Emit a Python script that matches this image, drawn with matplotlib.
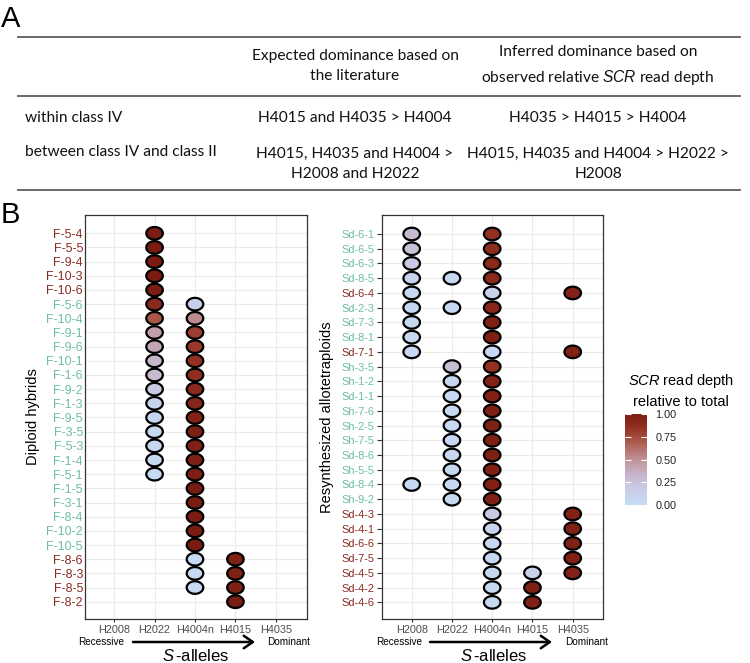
import matplotlib
matplotlib.use("Agg")
import matplotlib.pyplot as plt
import numpy as np
from matplotlib.colors import LinearSegmentedColormap, Normalize
from matplotlib.path import Path
from matplotlib.lines import Line2D
import matplotlib.cm as cm

plt.rcParams['font.family'] = ['Liberation Sans', 'DejaVu Sans']
plt.rcParams['mathtext.fontset'] = 'custom'
plt.rcParams['mathtext.rm'] = 'Liberation Sans'
plt.rcParams['mathtext.it'] = 'Liberation Sans:italic'

nan = np.nan

alleles = ["H2008", "H2022", "H4004n", "H4015", "H4035"]

# ---- panel A table ----
table_header = ["", "Expected dominance based on\nthe literature",
                "Inferred dominance based on\nobserved relative $SCR$ read depth"]
table_rows = [
    ["within class IV", "H4015 and H4035 > H4004", "H4035 > H4015 > H4004"],
    ["between class IV and class II", "H4015, H4035 and H4004 >\nH2008 and H2022",
     "H4015, H4035 and H4004 > H2022 >\nH2008"],
]

# ---- diploid hybrids ----
diploid_samples = ["F-5-4", "F-5-5", "F-9-4", "F-10-3", "F-10-6", "F-5-6", "F-10-4",
                   "F-9-1", "F-9-6", "F-10-1", "F-1-6", "F-9-2", "F-1-3", "F-9-5",
                   "F-3-5", "F-5-3", "F-1-4", "F-5-1", "F-1-5", "F-3-1", "F-8-4",
                   "F-10-2", "F-10-5", "F-8-6", "F-8-3", "F-8-5", "F-8-2"]
# 1 = label drawn in red, 0 = label drawn in green
diploid_group = [1, 1, 1, 1, 1, 0, 0, 0, 0, 0, 0, 0, 0, 0, 0, 0, 0, 0,
                 0, 0, 0, 0, 0, 1, 1, 1, 1]
diploid_H2022 = [1.0, 1.0, 1.0, 1.0, 1.0, 0.9, 0.7, 0.44, 0.41, 0.33, 0.3, 0.19, 0.1,
                 0.07, 0.05, 0.04, 0.04, 0.03, nan, nan, nan, nan, nan, nan, nan, nan, nan]
diploid_H4004n = [nan, nan, nan, nan, nan, 0.13, 0.52, 0.8, 0.82, 0.85, 0.87, 0.9, 0.93,
                  0.95, 0.97, 0.97, 0.98, 0.98, 1.0, 1.0, 1.0, 1.0, 1.0, 0.03, 0.03, 0.03, nan]
diploid_H4015 = [nan, nan, nan, nan, nan, nan, nan, nan, nan, nan, nan, nan, nan, nan,
                 nan, nan, nan, nan, nan, nan, nan, nan, nan, 0.97, 0.97, 0.97, 1.0]

# ---- resynthesized allotetraploids ----
tetra_samples = ["Sd-6-1", "Sd-6-5", "Sd-6-3", "Sd-8-5", "Sd-6-4", "Sd-2-3", "Sd-7-3",
                 "Sd-8-1", "Sd-7-1", "Sh-3-5", "Sh-1-2", "Sd-1-1", "Sh-7-6", "Sh-2-5",
                 "Sh-7-5", "Sd-8-6", "Sh-5-5", "Sd-8-4", "Sh-9-2", "Sd-4-3", "Sd-4-1",
                 "Sd-6-6", "Sd-7-5", "Sd-4-5", "Sd-4-2", "Sd-4-6"]
tetra_group = [0, 0, 0, 0, 1, 0, 0, 0, 1, 0, 0, 0, 0, 0, 0, 0, 0, 0, 0,
               1, 1, 1, 1, 1, 1, 1]
tetra_H2008 = [0.3, 0.25, 0.18, 0.1, 0.06, 0.06, 0.05, 0.05, 0.05, nan, nan, nan, nan,
               nan, nan, nan, nan, 0.05, nan, nan, nan, nan, nan, nan, nan, nan]
tetra_H2022 = [nan, nan, nan, 0.05, nan, 0.05, nan, nan, nan, 0.28, 0.08, 0.06, 0.05,
               0.05, 0.05, 0.05, 0.05, 0.05, 0.04, nan, nan, nan, nan, nan, nan, nan]
tetra_H4004n = [0.85, 0.88, 0.9, 0.9, 0.12, 0.92, 0.97, 0.97, 0.05, 0.85, 0.95, 0.96, 0.97,
                0.97, 0.97, 0.97, 0.97, 0.95, 0.97, 0.18, 0.08, 0.06, 0.05, 0.05, 0.04, 0.04]
tetra_H4015 = [nan, nan, nan, nan, nan, nan, nan, nan, nan, nan, nan, nan, nan, nan,
               nan, nan, nan, nan, nan, nan, nan, nan, nan, 0.12, 0.97, 0.97]
tetra_H4035 = [nan, nan, nan, nan, 0.95, nan, nan, nan, 0.95, nan, nan, nan, nan, nan,
               nan, nan, nan, nan, nan, 0.95, 0.96, 0.96, 0.96, 0.95, nan, nan]

diploid_values = {"H2022": diploid_H2022, "H4004n": diploid_H4004n, "H4015": diploid_H4015}
tetra_values = {"H2008": tetra_H2008, "H2022": tetra_H2022, "H4004n": tetra_H4004n,
                "H4015": tetra_H4015, "H4035": tetra_H4035}

cmap = LinearSegmentedColormap.from_list("scr", [
    (0.0, "#c6ddf5"), (0.2, "#c9c9e3"), (0.35, "#c6b3c7"), (0.5, "#bf9297"),
    (0.7, "#ab5849"), (0.85, "#933022"), (1.0, "#7a1c12")])
norm = Normalize(0, 1)
label_colors = {0: "#6dbf9f", 1: "#8b2c22"}

theta = np.linspace(0, 2 * np.pi, 64)
ellipse = Path(np.column_stack([np.cos(theta), 0.76 * np.sin(theta)]), closed=True)

W, H = 750, 663
def fx(x): return x / W
def fy(y): return 1 - y / H

fig = plt.figure(figsize=(7.5, 6.63), dpi=100)

# ---------- panel A ----------
fig.text(fx(1), fy(19), "A", fontsize=21, ha='left', va='center')
for y in (37, 96, 190):
    fig.add_artist(Line2D([fx(18), fx(740)], [fy(y), fy(y)], transform=fig.transFigure,
                          color="#5e5e5e", lw=1.3))
tfont = dict(family=['Lato', 'DejaVu Sans'], fontsize=11.2, color="#111111", linespacing=1.6)
col_x = [25, 355, 598]
fig.text(fx(col_x[1]), fy(66), table_header[1], ha='center', va='center', **tfont)
fig.text(fx(col_x[2]), fy(66), table_header[2], ha='center', va='center', **tfont)
fig.text(fx(col_x[0]), fy(118), table_rows[0][0], ha='left', va='center', **tfont)
fig.text(fx(col_x[1]), fy(118), table_rows[0][1], ha='center', va='center', **tfont)
fig.text(fx(col_x[2]), fy(118), table_rows[0][2], ha='center', va='center', **tfont)
fig.text(fx(col_x[0]), fy(152), table_rows[1][0], ha='left', va='center', **tfont)
fig.text(fx(col_x[1]), fy(164), table_rows[1][1], ha='center', va='center', **tfont)
fig.text(fx(col_x[2]), fy(164), table_rows[1][2], ha='center', va='center', **tfont)

# ---------- panel B ----------
fig.text(fx(1), fy(215), "B", fontsize=21, ha='left', va='center')


def dot_panel(ax, samples, groups, values, ylab_fs, tick_len):
    for j, allele in enumerate(alleles):
        if allele not in values:
            continue
        v = np.array(values[allele], dtype=float)
        rows = np.where(~np.isnan(v))[0]
        ax.scatter(np.full(len(rows), j), rows, c=v[rows], cmap=cmap, norm=norm,
                   marker=ellipse, s=142, edgecolors='black', linewidths=1.6, zorder=3)
    ax.set_xticks(range(len(alleles)))
    ax.set_xticklabels(alleles, fontsize=7.8, color="#4d4d4d")
    ax.set_yticks(range(len(samples)))
    ax.set_yticklabels(samples, fontsize=ylab_fs)
    for lab, g in zip(ax.get_yticklabels(), groups):
        lab.set_color(label_colors[g])
    ax.tick_params(axis='x', length=2.5, pad=2, color="#333333", width=0.8)
    ax.tick_params(axis='y', length=tick_len, pad=1.5, color="#333333", width=0.8)
    ax.grid(True, color="#ebebeb", lw=0.8)
    ax.set_axisbelow(True)
    for sp in ax.spines.values():
        sp.set_color("#333333")
        sp.set_linewidth(0.9)


ax1 = fig.add_axes([fx(85), fy(619), (307 - 85) / W, (619 - 215) / H])
dot_panel(ax1, diploid_samples, diploid_group, diploid_values, 9.0, 0)
ax1.set_xlim(-0.72, 4.77)
ax1.set_ylim(27.22, -1.29)

ax2 = fig.add_axes([fx(381.7), fy(619), (602.7 - 381.7) / W, (619 - 215) / H])
dot_panel(ax2, tetra_samples, tetra_group, tetra_values, 7.9, 3.5)
ax2.set_xlim(-0.745, 4.745)
ax2.set_ylim(26.13, -1.29)

fig.text(fx(33), fy(417), "Diploid hybrids", rotation=90, ha='center', va='center', fontsize=10.5)
fig.text(fx(327), fy(417), "Resynthesized allotetraploids", rotation=90, ha='center',
         va='center', fontsize=10.5)

# x axis arrows
for rec_x, a0, a1, dom_x, lab_x in [(78, 133, 255, 267, 196), (376, 430, 552, 565, 494)]:
    fig.text(fx(rec_x), fy(642), "Recessive", fontsize=7.2, ha='left', va='center')
    fig.text(fx(dom_x), fy(642), "Dominant", fontsize=7.2, ha='left', va='center')
    ax1.annotate("", xy=(fx(a1), fy(642)), xytext=(fx(a0), fy(642)),
                 xycoords='figure fraction', textcoords='figure fraction',
                 arrowprops=dict(arrowstyle='->,head_length=0.65,head_width=0.45',
                                 lw=1.8, color='black', shrinkA=0, shrinkB=0),
                 annotation_clip=False)
    fig.text(fx(lab_x), fy(656), "$S\\,$-alleles", fontsize=12, ha='center', va='center')

# colour legend
fig.text(fx(681), fy(381), "$SCR$ read depth", fontsize=10.5, ha='center', va='center')
fig.text(fx(681), fy(402), "relative to total", fontsize=10.5, ha='center', va='center')
cax = fig.add_axes([fx(625), fy(505), 22 / W, 91 / H])
cb = fig.colorbar(cm.ScalarMappable(norm=norm, cmap=cmap), cax=cax)
cb.outline.set_visible(False)
cb.set_ticks([0, 0.25, 0.5, 0.75, 1.0])
cb.set_ticklabels(["0.00", "0.25", "0.50", "0.75", "1.00"])
cax.tick_params(direction='in', length=4, color='white', width=0.8, left=True, right=True,
                labelsize=7.8, pad=6, labelcolor="#222222")

fig.savefig("out.png", dpi=100)
